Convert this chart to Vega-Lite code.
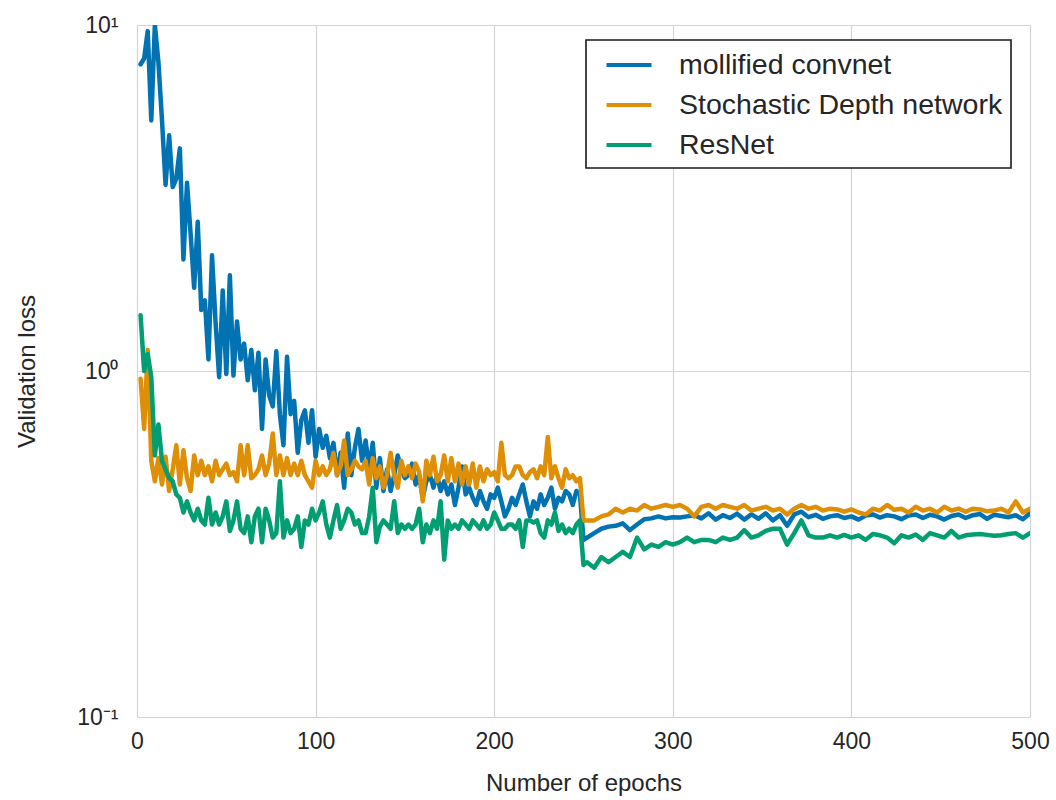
{
"$schema":"https://vega.github.io/schema/vega-lite/v6.json",
"width":893,"height":692,
"autosize":{"type":"none"},
"padding":{"left":137,"top":25,"right":26,"bottom":83},
"background":"white",
"config":{"view":{"stroke":null},"font":"Liberation Sans"},
"data":{"values":[
{"e":2,"m":7.7,"s":0.95,"r":1.45},{"e":4,"m":8.0,"s":0.68,"r":1.0},{"e":6,"m":9.6,"s":1.15,"r":1.12},{"e":8,"m":5.3,"s":0.55,"r":0.96},{"e":10,"m":10.0,"s":0.48,"r":0.57},
{"e":12,"m":7.8,"s":0.56,"r":0.7},{"e":14,"m":5.3,"s":0.47,"r":0.55},{"e":16,"m":3.45,"s":0.565,"r":0.52},{"e":18,"m":4.8,"s":0.45,"r":0.49},{"e":20,"m":3.4,"s":0.52,"r":0.48},
{"e":22,"m":3.6,"s":0.61,"r":0.44},{"e":24,"m":4.4,"s":0.47,"r":0.43},{"e":26,"m":2.1,"s":0.59,"r":0.39},{"e":28,"m":3.5,"s":0.49,"r":0.42},{"e":30,"m":2.5,"s":0.45,"r":0.39},
{"e":32,"m":1.74,"s":0.57,"r":0.37},{"e":34,"m":2.7,"s":0.5,"r":0.4},{"e":36,"m":1.5,"s":0.55,"r":0.37},{"e":38,"m":1.6,"s":0.5,"r":0.36},{"e":40,"m":1.08,"s":0.53,"r":0.43},
{"e":42,"m":2.16,"s":0.48,"r":0.36},{"e":44,"m":1.38,"s":0.55,"r":0.39},{"e":46,"m":0.96,"s":0.5,"r":0.36},{"e":48,"m":1.71,"s":0.52,"r":0.38},{"e":50,"m":0.98,"s":0.54,"r":0.42},
{"e":52,"m":1.89,"s":0.5,"r":0.345},{"e":54,"m":0.97,"s":0.51,"r":0.37},{"e":56,"m":1.39,"s":0.48,"r":0.42},{"e":58,"m":1.08,"s":0.61,"r":0.35},{"e":60,"m":1.2,"s":0.5,"r":0.34},
{"e":62,"m":0.94,"s":0.61,"r":0.38},{"e":64,"m":1.15,"s":0.49,"r":0.32},{"e":66,"m":0.88,"s":0.5,"r":0.38},{"e":68,"m":1.13,"s":0.52,"r":0.4},{"e":70,"m":0.68,"s":0.57,"r":0.32},
{"e":72,"m":1.08,"s":0.5,"r":0.4},{"e":74,"m":0.85,"s":0.54,"r":0.37},{"e":76,"m":0.79,"s":0.66,"r":0.33},{"e":78,"m":1.14,"s":0.5,"r":0.34},{"e":80,"m":0.75,"s":0.57,"r":0.48},
{"e":82,"m":0.61,"s":0.5,"r":0.33},{"e":84,"m":1.1,"s":0.56,"r":0.37},{"e":86,"m":0.75,"s":0.5,"r":0.34},{"e":88,"m":0.82,"s":0.54,"r":0.35},{"e":90,"m":0.58,"s":0.5,"r":0.38},
{"e":92,"m":0.72,"s":0.55,"r":0.31},{"e":94,"m":0.77,"s":0.5,"r":0.37},{"e":96,"m":0.62,"s":0.48,"r":0.36},{"e":98,"m":0.77,"s":0.46,"r":0.4},{"e":100,"m":0.565,"s":0.55,"r":0.37},
{"e":102,"m":0.68,"s":0.5,"r":0.39},{"e":104,"m":0.6,"s":0.53,"r":0.42},{"e":106,"m":0.65,"s":0.5,"r":0.36},{"e":108,"m":0.56,"s":0.52,"r":0.33},{"e":110,"m":0.62,"s":0.58,"r":0.37},
{"e":112,"m":0.5,"s":0.5,"r":0.41},{"e":114,"m":0.58,"s":0.53,"r":0.35},{"e":116,"m":0.46,"s":0.63,"r":0.37},{"e":118,"m":0.66,"s":0.5,"r":0.4},{"e":120,"m":0.5,"s":0.52,"r":0.39},
{"e":122,"m":0.6,"s":0.55,"r":0.36},{"e":124,"m":0.68,"s":0.53,"r":0.37},{"e":126,"m":0.55,"s":0.52,"r":0.34},{"e":128,"m":0.63,"s":0.55,"r":0.34},{"e":130,"m":0.52,"s":0.47,"r":0.38},
{"e":132,"m":0.62,"s":0.56,"r":0.46},{"e":134,"m":0.46,"s":0.49,"r":0.32},{"e":136,"m":0.56,"s":0.53,"r":0.355},{"e":138,"m":0.45,"s":0.46,"r":0.37},{"e":140,"m":0.52,"s":0.5,"r":0.36},
{"e":142,"m":0.45,"s":0.58,"r":0.35},{"e":144,"m":0.5,"s":0.5,"r":0.42},{"e":146,"m":0.57,"s":0.46,"r":0.34},{"e":148,"m":0.52,"s":0.55,"r":0.36},{"e":150,"m":0.49,"s":0.5,"r":0.35},
{"e":152,"m":0.5,"s":0.53,"r":0.36},{"e":154,"m":0.54,"s":0.49,"r":0.35},{"e":156,"m":0.47,"s":0.54,"r":0.36},{"e":158,"m":0.5,"s":0.51,"r":0.4},{"e":160,"m":0.43,"s":0.42,"r":0.32},
{"e":162,"m":0.48,"s":0.55,"r":0.36},{"e":164,"m":0.5,"s":0.5,"r":0.34},{"e":166,"m":0.46,"s":0.565,"r":0.37},{"e":168,"m":0.5,"s":0.48,"r":0.35},{"e":170,"m":0.45,"s":0.5,"r":0.42},
{"e":172,"m":0.48,"s":0.57,"r":0.285},{"e":174,"m":0.44,"s":0.48,"r":0.37},{"e":176,"m":0.47,"s":0.56,"r":0.35},{"e":178,"m":0.41,"s":0.48,"r":0.36},{"e":180,"m":0.46,"s":0.54,"r":0.35},
{"e":182,"m":0.53,"s":0.47,"r":0.37},{"e":184,"m":0.44,"s":0.53,"r":0.36},{"e":186,"m":0.46,"s":0.47,"r":0.35},{"e":188,"m":0.43,"s":0.54,"r":0.37},{"e":190,"m":0.41,"s":0.46,"r":0.36},
{"e":192,"m":0.45,"s":0.53,"r":0.35},{"e":194,"m":0.42,"s":0.48,"r":0.37},{"e":196,"m":0.4,"s":0.52,"r":0.35},{"e":198,"m":0.44,"s":0.5,"r":0.36},{"e":200,"m":0.43,"s":0.51,"r":0.39},
{"e":202,"m":0.46,"s":0.48,"r":0.37},{"e":204,"m":0.42,"s":0.62,"r":0.35},{"e":206,"m":0.38,"s":0.5,"r":0.35},{"e":208,"m":0.4,"s":0.49,"r":0.36},{"e":210,"m":0.43,"s":0.5,"r":0.36},
{"e":212,"m":0.41,"s":0.53,"r":0.35},{"e":214,"m":0.44,"s":0.53,"r":0.37},{"e":216,"m":0.47,"s":0.5,"r":0.31},{"e":218,"m":0.42,"s":0.49,"r":0.37},{"e":220,"m":0.38,"s":0.51,"r":0.37},
{"e":222,"m":0.42,"s":0.52,"r":0.365},{"e":224,"m":0.4,"s":0.49,"r":0.37},{"e":226,"m":0.44,"s":0.53,"r":0.34},{"e":228,"m":0.41,"s":0.5,"r":0.33},{"e":230,"m":0.43,"s":0.645,"r":0.37},
{"e":232,"m":0.46,"s":0.49,"r":0.36},{"e":234,"m":0.4,"s":0.53,"r":0.39},{"e":236,"m":0.43,"s":0.49,"r":0.345},{"e":238,"m":0.42,"s":0.46,"r":0.36},{"e":240,"m":0.45,"s":0.52,"r":0.34},
{"e":242,"m":0.44,"s":0.49,"r":0.35},{"e":244,"m":0.41,"s":0.5,"r":0.34},{"e":246,"m":0.45,"s":0.48,"r":0.36},{"e":248,"m":0.44,"s":0.49,"r":0.37},{"e":250,"m":0.325,"s":0.37,"r":0.275},
{"e":252,"m":0.33,"s":0.37,"r":0.28},{"e":256,"m":0.34,"s":0.37,"r":0.27},{"e":260,"m":0.35,"s":0.38,"r":0.29},{"e":264,"m":0.355,"s":0.385,"r":0.28},{"e":268,"m":0.357,"s":0.4,"r":0.29},
{"e":272,"m":0.363,"s":0.39,"r":0.3},{"e":276,"m":0.347,"s":0.4,"r":0.29},{"e":280,"m":0.36,"s":0.395,"r":0.33},{"e":284,"m":0.373,"s":0.41,"r":0.305},{"e":288,"m":0.375,"s":0.4,"r":0.315},
{"e":292,"m":0.38,"s":0.405,"r":0.31},{"e":296,"m":0.375,"s":0.41,"r":0.32},{"e":300,"m":0.378,"s":0.405,"r":0.315},{"e":304,"m":0.377,"s":0.41,"r":0.32},{"e":308,"m":0.38,"s":0.4,"r":0.33},
{"e":312,"m":0.383,"s":0.38,"r":0.32},{"e":316,"m":0.375,"s":0.405,"r":0.325},{"e":320,"m":0.388,"s":0.41,"r":0.325},{"e":324,"m":0.372,"s":0.4,"r":0.32},{"e":328,"m":0.383,"s":0.41,"r":0.33},
{"e":332,"m":0.376,"s":0.405,"r":0.325},{"e":336,"m":0.387,"s":0.4,"r":0.33},{"e":340,"m":0.372,"s":0.41,"r":0.347},{"e":344,"m":0.385,"s":0.395,"r":0.33},{"e":348,"m":0.374,"s":0.4,"r":0.335},
{"e":352,"m":0.388,"s":0.405,"r":0.345},{"e":356,"m":0.37,"s":0.395,"r":0.35},{"e":360,"m":0.383,"s":0.4,"r":0.35},{"e":364,"m":0.357,"s":0.385,"r":0.315},{"e":368,"m":0.385,"s":0.4,"r":0.34},
{"e":372,"m":0.392,"s":0.41,"r":0.37},{"e":376,"m":0.378,"s":0.4,"r":0.335},{"e":380,"m":0.384,"s":0.405,"r":0.33},{"e":384,"m":0.374,"s":0.395,"r":0.33},{"e":388,"m":0.38,"s":0.4,"r":0.335},
{"e":392,"m":0.383,"s":0.398,"r":0.33},{"e":396,"m":0.376,"s":0.392,"r":0.336},{"e":400,"m":0.38,"s":0.398,"r":0.33},{"e":404,"m":0.372,"s":0.39,"r":0.335},{"e":408,"m":0.382,"s":0.385,"r":0.325},
{"e":412,"m":0.385,"s":0.4,"r":0.338},{"e":416,"m":0.377,"s":0.395,"r":0.335},{"e":420,"m":0.383,"s":0.41,"r":0.33},{"e":424,"m":0.38,"s":0.397,"r":0.318},{"e":428,"m":0.373,"s":0.4,"r":0.335},
{"e":432,"m":0.382,"s":0.39,"r":0.33},{"e":436,"m":0.385,"s":0.405,"r":0.337},{"e":440,"m":0.376,"s":0.395,"r":0.325},{"e":444,"m":0.384,"s":0.4,"r":0.34},{"e":448,"m":0.38,"s":0.39,"r":0.335},
{"e":452,"m":0.372,"s":0.405,"r":0.33},{"e":456,"m":0.381,"s":0.395,"r":0.345},{"e":460,"m":0.385,"s":0.4,"r":0.33},{"e":464,"m":0.376,"s":0.392,"r":0.335},{"e":468,"m":0.383,"s":0.4,"r":0.337},
{"e":472,"m":0.386,"s":0.398,"r":0.338},{"e":476,"m":0.374,"s":0.393,"r":0.336},{"e":480,"m":0.384,"s":0.395,"r":0.334},{"e":484,"m":0.381,"s":0.4,"r":0.335},{"e":488,"m":0.378,"s":0.39,"r":0.338},
{"e":492,"m":0.383,"s":0.42,"r":0.34},{"e":496,"m":0.373,"s":0.39,"r":0.33},{"e":500,"m":0.388,"s":0.4,"r":0.34}
]},
"transform":[{"fold":["m","s","r"],"as":["series","loss"]}],
"mark":{"type":"line","strokeWidth":4.5,"clip":true,"strokeJoin":"round","strokeCap":"round"},
"encoding":{
"x":{"field":"e","type":"quantitative","scale":{"domain":[0,500],"nice":false,"zero":false},
"axis":{"values":[0,100,200,300,400,500],"title":"Number of epochs","grid":true,"gridColor":"#d4d4d4","gridWidth":1.2,"domain":false,"ticks":false,"tickSize":0,"labelFlush":false,"labelPadding":13,"labelFontSize":23,"labelColor":"#262626","titleFontSize":24,"titleFontWeight":"normal","titleColor":"#262626","titlePadding":18}},
"y":{"field":"loss","type":"quantitative","scale":{"type":"log","domain":[0.1,10],"nice":false},
"axis":{"values":[0.1,1,10],"labelExpr":"datum.value >= 5 ? '10¹' : datum.value >= 0.5 ? '10⁰' : '10⁻¹'","title":"Validation loss","grid":true,"gridColor":"#d4d4d4","gridWidth":1.2,"domain":false,"ticks":false,"tickSize":0,"labelPadding":19,"labelFontSize":23,"labelColor":"#262626","titleFontSize":24,"titleFontWeight":"normal","titleColor":"#262626","titleX":-110,"titleY":346,"titleBaseline":"middle","titleAngle":-90}},
"color":{"field":"series","type":"nominal","sort":["m","s","r"],"scale":{"domain":["m","s","r"],"range":["#0173b2","#de8f05","#029e73"]},
"legend":{"orient":"none","legendX":449,"legendY":15,"title":null,"labelExpr":"datum.label == 'm' ? 'mollified convnet' : datum.label == 's' ? 'Stochastic Depth network' : 'ResNet'","labelFontSize":28.5,"labelLimit":0,"labelColor":"#262626","symbolType":"M-1.5,0H1.5","symbolSize":900,"symbolStrokeWidth":4,"symbolOffset":18,"labelOffset":33,"padding":8,"rowPadding":8,"strokeColor":"#1a1a1a","fillColor":"white","cornerRadius":0,
"encode":{"legend":{"update":{"strokeWidth":{"value":1.6}}}}}}
}
}
